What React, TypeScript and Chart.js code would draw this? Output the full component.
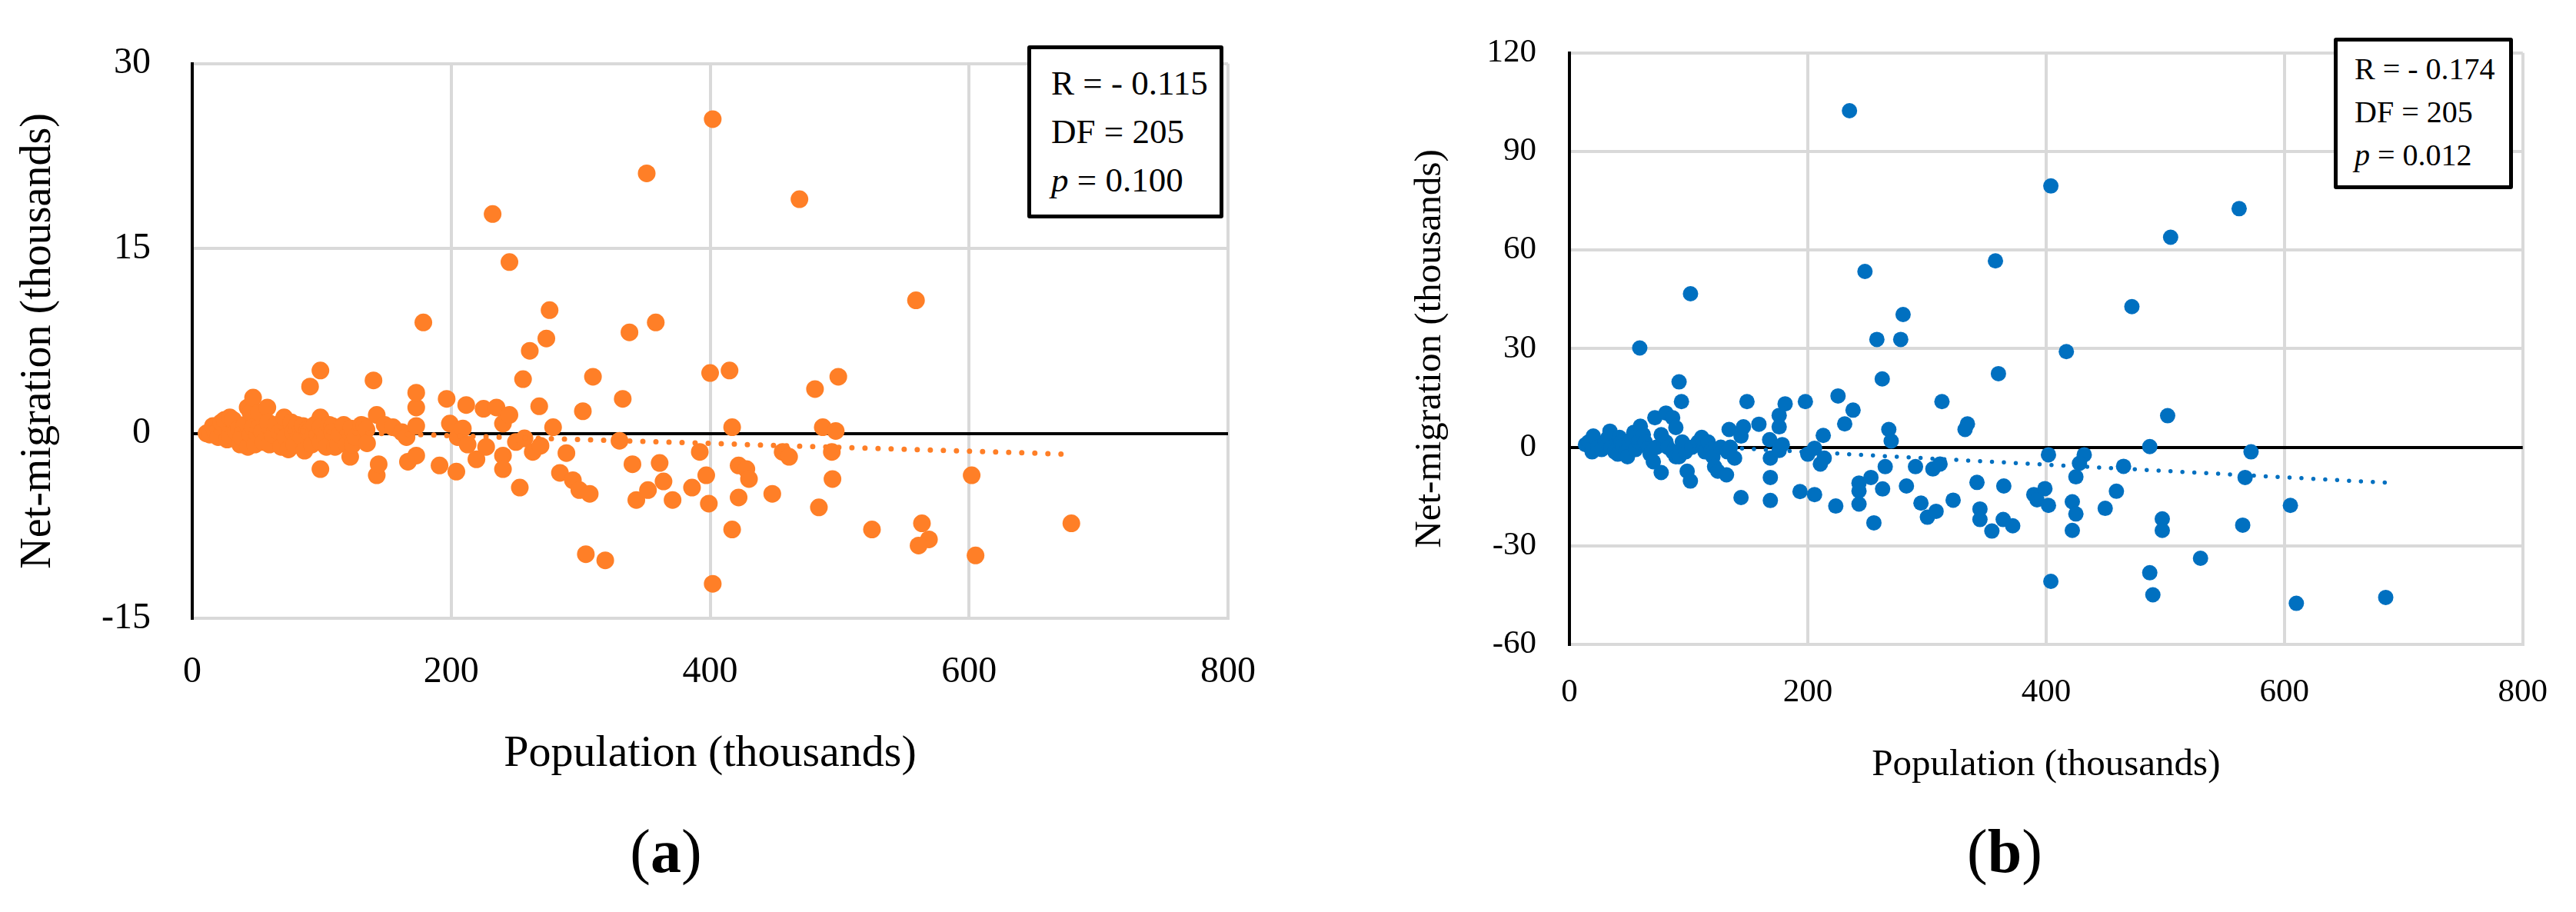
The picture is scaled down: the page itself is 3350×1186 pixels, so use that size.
// ── Net-migration vs population · two scatter panels ───────────

import { useEffect, useRef } from "react"
import Chart from "chart.js/auto"

const ORANGE = "#FF7F27"
const BLUE   = "#0070C0"
const GRID   = "#D9D9D9"
const BLACK  = "#000000"
const SERIF  = "'Liberation Serif', 'Times New Roman', serif"

const W    = 3350
const H    = 1186
const HALF = 1675

// ── Axis ticks ─────────────────────────────────────────────────
const X_MIN = 0
const X_MAX = 800
const X_STEP = 200
const Y_A = { min: -15, max: 30, step: 15 }
const Y_B = { min: -60, max: 120, step: 30 }

// ── Panel (a) · population / net-migration (thousands) ─────────
const POP_A = [
  11, 13.5, 16, 18, 20, 22.5, 22.5, 25, 27, 29,
  29, 31.5, 34, 36, 37, 38, 40.5, 42.8, 43, 45,
  45, 47, 47, 48.4, 50.6, 51.8, 51.8, 54, 55, 58,
  58.5, 59.7, 62, 65, 67.5, 68.7, 71, 72, 74.3, 76.5,
  77.7, 78.8, 81, 82, 84.4, 85.5, 86.7, 89, 90, 91,
  92.3, 94.6, 96.8, 99, 99, 99, 99, 99, 102.4, 103.6,
  105.8, 108, 108, 110.3, 112.6, 113.7, 117, 119.3, 121.6, 122,
  122.7, 123.8, 126, 130.6, 133, 134.6, 135, 140, 142.5, 142.5,
  144, 148.6, 155, 162, 165.5, 166.6, 173, 173, 173, 173,
  178.5, 191, 196.5, 199, 204, 205, 209, 211.6, 212.7, 219.5,
  225, 227, 232, 235, 240, 240, 240, 245, 245, 250,
  253, 255.5, 256.6, 260.7, 263, 268, 269, 273.5, 276, 278.7,
  284, 289, 294, 299, 301.7, 304, 307, 309.5, 319, 330,
  332.5, 337.7, 340, 343, 352, 402, 351, 469, 559, 358,
  400, 415, 481, 499, 417, 487, 497, 392, 361, 364,
  371, 386, 397, 399, 422, 428, 430, 422, 417, 402,
  448, 456, 461, 494, 494.5, 484, 525, 563.6, 569, 561,
  602, 605, 679,
]
const MIG_A = [
  0, -0.1, 0.6, 0.1, -0.3, 0.5, 0.9, 1.1, -0.5, -0.1,
  1.3, 1.1, 0.1, 0.4, -0.9, -0.3, 0.7, 2.1, -1.1, -0.1,
  1.7, 0.5, 2.9, -0.9, -0.1, 0.5, 1.7, 0.1, -0.7, 2.1,
  0.9, -0.9, -0.1, 0.7, 0.1, -1.1, 1.3, -0.3, -1.3, 0.9,
  0.1, -0.9, 0.7, 0, -0.3, 0.6, -1.4, 0.3, 0.1, 3.8,
  -0.9, 0.7, -0.1, 5.1, 1.3, 0.5, -0.7, -2.9, -0.1, -1.1,
  0.7, 0.6, 0.1, -1.1, -0.9, -0.1, 0.7, -0.9, 0.1, -1.9,
  0.4, -0.9, -0.3, 0.7, 0.6, 0.3, -0.8, 4.3, 1.5, -3.4,
  -2.5, 0.7, 0.5, 0.1, -0.3, -2.3, 0.6, -1.8, 2.1, 3.3,
  9.0, -2.6, 2.8, 0.8, -3.1, -0.3, 0.4, 2.3, -0.9, -2.1,
  2.0, -1.1, 17.8, 2.1, 0.8, -1.8, -2.9, 1.5, 13.9, -0.7,
  -4.4, 4.4, -0.4, 6.7, -1.5, 2.2, -1.0, 7.7, 10.0, 0.5,
  -3.2, -1.6, -3.8, -4.6, 1.8, -9.8, -4.9, 4.6, -10.3, -0.6,
  2.8, 8.2, -2.5, -5.4, -4.6, 25.5, 21.1, 19.0, 10.8, 9.0,
  4.9, 5.1, 3.6, 4.6, 0.5, 0.5, 0.2, -1.5, -2.4, -3.9,
  -5.4, -4.4, -3.4, -5.7, -2.6, -2.9, -3.7, -5.2, -7.8, -12.2,
  -4.9, -1.5, -1.9, -1.5, -3.7, -6.0, -7.8, -7.3, -8.6, -9.1,
  -3.4, -9.9, -7.3,
]
const TREND_A_X = [15, 680]
const TREND_A_Y = [0.4, -1.7]
const STATS_A   = ["R = - 0.115", "DF = 205", "0.100"]

// ── Panel (b) ──────────────────────────────────────────────────
const POP_B = [
  13.5, 16, 19, 20, 24, 27, 30, 32.5, 34, 35,
  38, 40.6, 42, 43.3, 44.6, 47.4, 48.7, 51.4, 54, 55.5,
  58, 59.5, 59, 62, 63.6, 66.3, 67.7, 70.4, 71.7, 73,
  77, 77, 81, 81, 82.5, 86.6, 86.6, 89.3, 89.3, 92,
  92, 94, 94.7, 97.4, 98.8, 101.5, 101.6, 102.8, 108, 111,
  113.7, 116.4, 119, 120.4, 121.8, 124.5, 127, 131.8, 132.6, 134,
  135, 138.6, 144, 144, 146, 149, 159, 168, 168.6, 168.6,
  168.6, 176, 176, 176, 178.6, 181, 193.5, 198, 200, 205.7,
  205.7, 210.6, 213, 213.8, 223.5, 225.4, 231, 235, 238, 243,
  243, 243, 248, 253, 255.5, 258, 262.5, 262.8, 265, 268,
  270, 278, 280, 282.8, 290.4, 295, 300.4, 305, 307.7, 311,
  312.6, 322, 332, 334, 342, 344.5, 344.5, 354.5, 357.5, 360,
  364, 364.5, 372, 389.7, 392.4, 399, 404, 562, 504.5, 472,
  417, 502, 487, 572, 402, 432, 428, 465, 425, 567,
  402, 422, 425, 449.6, 459, 422, 497.5, 497.5, 565, 605,
  529.6, 487, 489.6, 404, 610, 685,
]
const MIG_B = [
  0.8, 1.6, -1.4, 3.4, 0, -0.7, 1.6, 3.0, 4.9, 0,
  -1.4, -2.1, 3.0, 1.6, 0.4, -1.4, -2.9, 2.3, 4.5, -0.7,
  1.6, 6.4, 30.2, 3.8, 1.6, 0, -2.1, -4.4, 9.0, 0,
  3.8, -7.7, 10.4, 1.6, 0, 9.0, -1.4, 6.0, -2.9, -2.9,
  19.9, 13.9, 1.6, -1.4, -7.3, -10.3, 46.7, 0, 1.6, 3.0,
  -1.4, 1.6, -0.7, -2.9, -5.9, -7.3, 0, -8.4, -1.4, 5.4,
  0, -3.3, 3.4, -15.3, 6.2, 13.9, 7.0, 2.3, -3.3, -9.2,
  -16.2, 9.7, 6.2, -1.0, 0.8, 13.2, -13.5, 13.9, -2.1, -0.3,
  -14.4, -5.1, 3.6, -3.3, -17.9, 15.6, 7.1, 102.4, 11.3, -10.9,
  -13.3, -17.3, 53.5, -9.2, -23.0, 32.8, 20.8, -12.7, -5.9, 5.4,
  1.9, 32.8, 40.4, -11.8, -5.9, -17, -21.3, -6.6, -19.5, -5.1,
  13.9, -16.1, 5.4, 7.1, -10.7, -18.8, -22, -25.5, 56.7, 22.4,
  -22, -11.8, -23.9, -14.4, -16, -12.6, 79.5, 72.6, 63.9, 42.8,
  29.1, 9.6, 0.2, -1.4, -2.3, -2.3, -4.9, -5.8, -9.0, -9.2,
  -17.7, -16.6, -20.3, -18.6, -13.4, -25.3, -21.8, -25.3, -23.7, -17.7,
  -33.8, -38.2, -44.9, -40.8, -47.5, -45.7,
]
const TREND_B_X = [15, 686]
const TREND_B_Y = [2.1, -10.8]
const STATS_B   = ["R = - 0.174", "DF = 205", "0.012"]

const X_TITLE = "Population (thousands)"
const Y_TITLE = "Net-migration (thousands)"

type PanelProps = {
  left: number
  pops: number[]
  migs: number[]
  trendX: number[]
  trendY: number[]
  yRange: { min: number; max: number; step: number }
  color: string
  radius: number
  dotSize: number
  dotGap: number
  yAxisWidth: number
  xAxisHeight: number
  padTop: number
  padRight: number
  tickSize: number
  yTickPad: number
  xTickPad: number
  yTitleSize: number
  yTitlePad: number
  xTitleSize: number
  xTitlePad: number
}

function Panel(p: PanelProps) {
  const ref = useRef<HTMLCanvasElement>(null)

  useEffect(() => {
    if (!ref.current) return
    const tickFont  = { family: SERIF, size: p.tickSize }
    const gridColor = (ctx: any) => (ctx.tick && ctx.tick.value === 0 ? BLACK : GRID)

    const chart = new Chart(ref.current, {
      type: "scatter",
      data: {
        datasets: [
          {
            label: "Trend",
            data: p.trendX.map((x, i) => ({ x, y: p.trendY[i] })),
            showLine: true,
            borderColor: p.color,
            borderWidth: p.dotSize,
            borderDash: [0, p.dotGap],
            borderCapStyle: "round",
            pointRadius: 0,
            order: 0,
          } as any,
          {
            label: "Regions",
            data: p.pops.map((x, i) => ({ x, y: p.migs[i] })),
            backgroundColor: p.color,
            borderColor: p.color,
            borderWidth: 0,
            pointRadius: p.radius,
            order: 1,
          },
        ],
      },
      options: {
        responsive: false,
        animation: false,
        devicePixelRatio: 1,
        layout: { padding: { left: 0, top: p.padTop, right: p.padRight, bottom: 0 } },
        plugins: { legend: { display: false }, tooltip: { enabled: false } },
        scales: {
          x: {
            type: "linear",
            min: X_MIN,
            max: X_MAX,
            ticks: { stepSize: X_STEP, color: BLACK, padding: p.xTickPad, font: tickFont },
            grid: { color: gridColor, lineWidth: 4, drawTicks: false },
            border: { color: GRID, width: 4 },
            title: {
              display: true,
              text: X_TITLE,
              color: BLACK,
              font: { family: SERIF, size: p.xTitleSize },
              padding: { top: 0, bottom: p.xTitlePad },
            },
            afterFit: (s: any) => { s.height = p.xAxisHeight },
          },
          y: {
            type: "linear",
            min: p.yRange.min,
            max: p.yRange.max,
            ticks: { stepSize: p.yRange.step, color: BLACK, padding: p.yTickPad, font: tickFont },
            grid: { color: gridColor, lineWidth: 4, drawTicks: false },
            border: { color: BLACK, width: 4 },
            title: {
              display: true,
              text: Y_TITLE,
              color: BLACK,
              font: { family: SERIF, size: p.yTitleSize },
              padding: { top: p.yTitlePad, bottom: 0 },
            },
            afterFit: (s: any) => { s.width = p.yAxisWidth },
          },
        },
      },
    })

    return () => chart.destroy()
  }, [])

  return (
    <canvas
      ref={ref}
      width={HALF}
      height={H}
      style={{ position: "absolute", left: p.left, top: 0, width: HALF, height: H }}
    />
  )
}

// ── Stats box (R, DF, p) ───────────────────────────────────────
function StatsBox({ lines, left, top, width, height, size, lineH, padL, padT }: {
  lines: string[]; left: number; top: number; width: number; height: number
  size: number; lineH: number; padL: number; padT: number
}) {
  return (
    <div style={{
      position: "absolute", left, top, width, height, boxSizing: "border-box",
      border: "5px solid #000", borderRadius: 3, background: "#fff",
      fontFamily: SERIF, fontSize: size, lineHeight: `${lineH}px`, color: BLACK,
      paddingLeft: padL, paddingTop: padT, whiteSpace: "nowrap",
    }}>
      <div>{lines[0]}</div>
      <div>{lines[1]}</div>
      <div><i>p</i> = {lines[2]}</div>
    </div>
  )
}

function PanelTag({ letter, cx }: { letter: string; cx: number }) {
  return (
    <div style={{
      position: "absolute", left: cx - 100, top: 1057, width: 200, textAlign: "center",
      fontFamily: SERIF, fontSize: 80, lineHeight: "100px", color: BLACK,
    }}>
      (<b>{letter}</b>)
    </div>
  )
}

// ── App ────────────────────────────────────────────────────────
export default function App() {
  return (
    <div style={{ position: "absolute", left: 0, top: 0, width: W, height: H, background: "#fff", overflow: "hidden" }}>
      <Panel
        left={0} pops={POP_A} migs={MIG_A} trendX={TREND_A_X} trendY={TREND_A_Y}
        yRange={Y_A} color={ORANGE} radius={11.5} dotSize={7} dotGap={17}
        yAxisWidth={250} xAxisHeight={382} padTop={39} padRight={65}
        tickSize={48} yTickPad={54} xTickPad={42}
        yTitleSize={56} yTitlePad={17} xTitleSize={58} xTitlePad={170}
      />
      <Panel
        left={HALF} pops={POP_B} migs={MIG_B} trendX={TREND_B_X} trendY={TREND_B_Y}
        yRange={Y_B} color={BLUE} radius={10} dotSize={5.5} dotGap={15.5}
        yAxisWidth={366} xAxisHeight={348} padTop={30} padRight={65}
        tickSize={43} yTickPad={43} xTickPad={37}
        yTitleSize={49} yTitlePad={156} xTitleSize={49} xTitlePad={161}
      />
      <StatsBox lines={STATS_A} left={1336} top={59} width={255} height={225} size={45} lineH={63} padL={26} padT={13} />
      <StatsBox lines={STATS_B} left={3035} top={49} width={233} height={197} size={40} lineH={56} padL={22} padT={8} />
      <PanelTag letter="a" cx={866} />
      <PanelTag letter="b" cx={2607} />
    </div>
  )
}
